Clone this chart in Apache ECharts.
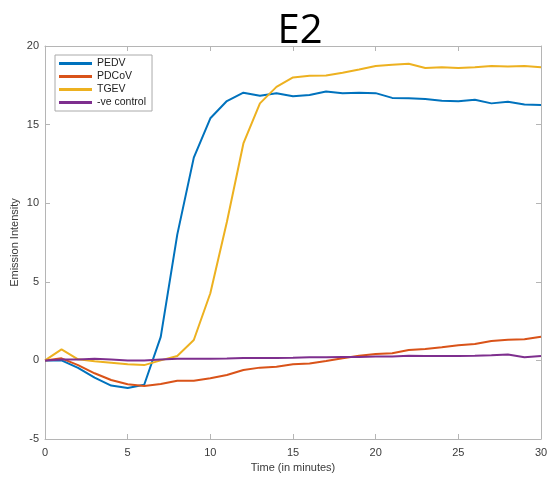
<!DOCTYPE html>
<html><head><meta charset="utf-8">
<script src="https://cdn.jsdelivr.net/npm/echarts@6/dist/echarts.min.js"></script>
<style>html,body{margin:0;padding:0;background:#fff}#c{width:555px;height:482px}</style>
</head><body><div id="c"></div>
<script>
const minutes = [0,1,2,3,4,5,6,7,8,9,10,11,12,13,14,15,16,17,18,19,20,21,22,23,24,25,26,27,28,29,30];
const pedv = [0,0,-0.48,-1.1,-1.6,-1.75,-1.55,1.5,8.0,12.9,15.4,16.5,17.03,16.84,17.0,16.8,16.88,17.1,17.0,17.03,17.0,16.7,16.68,16.63,16.52,16.48,16.58,16.35,16.45,16.28,16.25];
const pdcov = [0,0.13,-0.3,-0.82,-1.25,-1.52,-1.63,-1.5,-1.3,-1.3,-1.14,-0.93,-0.61,-0.46,-0.4,-0.25,-0.19,-0.04,0.13,0.3,0.41,0.45,0.66,0.72,0.83,0.96,1.04,1.23,1.32,1.34,1.51];
const tgev = [0,0.7,0.07,-0.05,-0.15,-0.25,-0.3,0.0,0.28,1.3,4.27,8.8,13.8,16.35,17.4,18.0,18.1,18.13,18.3,18.5,18.73,18.8,18.87,18.6,18.65,18.6,18.65,18.73,18.7,18.73,18.65];
const control = [0,0.05,0.05,0.1,0.05,0.0,0.0,0.05,0.1,0.1,0.1,0.12,0.15,0.15,0.15,0.17,0.2,0.2,0.22,0.22,0.25,0.25,0.3,0.28,0.28,0.28,0.3,0.33,0.37,0.2,0.28];
const seriesNames = ['PEDV','PDCoV','TGEV','-ve control'];
const seriesColors = ['#0072BD','#D95319','#EDB120','#7E2F8E'];
const xTicks = [0,5,10,15,20,25,30];
const yTicks = [-5,0,5,10,15,20];

const allData = [pedv, pdcov, tgev, control];
const chart = echarts.init(document.getElementById('c'));
const axisCol = '#b5b5b5';
const labCol = '#3a3a3a';
const font = 'Liberation Sans, Helvetica, Arial, sans-serif';
function xAx(pos, show){
  return {type:'value', position:pos, min:xTicks[0], max:xTicks[xTicks.length-1], interval:5,
    axisLine:{show:true,onZero:false,lineStyle:{color:axisCol,width:1}},
    axisTick:{show:true,inside:true,length:5,lineStyle:{color:axisCol}},
    axisLabel:{show:show,color:labCol,fontSize:11,fontFamily:font,margin:8},
    splitLine:{show:false},
    name: show ? 'Time (in minutes)' : '', nameLocation:'middle', nameGap:22,
    nameTextStyle:{color:labCol,fontSize:11,fontFamily:font}};
}
function yAx(pos, show){
  return {type:'value', position:pos, min:yTicks[0], max:yTicks[yTicks.length-1], interval:5,
    axisLine:{show:true,onZero:false,lineStyle:{color:axisCol,width:1}},
    axisTick:{show:true,inside:true,length:5,lineStyle:{color:axisCol}},
    axisLabel:{show:show,color:labCol,fontSize:11,fontFamily:font,margin:6},
    splitLine:{show:false},
    name: show ? 'Emission Intensity' : '', nameLocation:'middle', nameGap:25, nameMoveOverlap:false,
    nameTextStyle:{color:labCol,fontSize:11,fontFamily:font}};
}
chart.setOption({
  animation:false,
  title:{text:'E2', left:295, textAlign:'center', top:7,
    textStyle:{fontSize:40,fontWeight:'normal',color:'#000',fontFamily:'Open Sans, sans-serif'}},
  grid:{left:45,right:14,top:46,bottom:43,containLabel:false,outerBoundsMode:'none'},
  legend:{orient:'vertical', left:55, top:55, data:seriesNames,
    backgroundColor:'#fff', borderColor:'#aaa', borderWidth:1, padding:[3,6,3,4],
    itemWidth:33, itemHeight:3, itemGap:2, icon:'rect',
    textStyle:{fontSize:10.5,color:'#222',fontFamily:font,lineHeight:11}},
  xAxis:[xAx('bottom',true), xAx('top',false)],
  yAxis:[yAx('left',true), yAx('right',false)],
  series: allData.map((d,i)=>({
    name:seriesNames[i], type:'line', xAxisIndex:0, yAxisIndex:0,
    data: minutes.map((m,j)=>[m,d[j]]),
    showSymbol:false, symbol:'none',
    lineStyle:{width:2,color:seriesColors[i]}, itemStyle:{color:seriesColors[i]}
  }))
});
</script></body></html>
